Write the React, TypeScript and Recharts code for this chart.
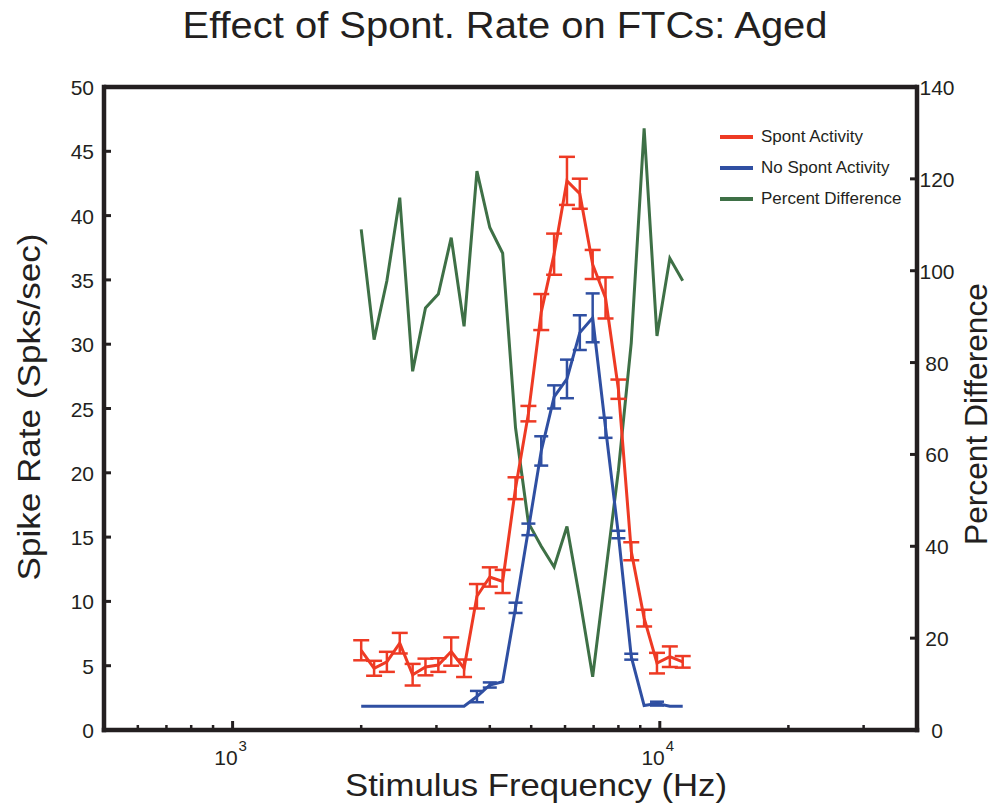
import {
  ComposedChart,
  Line,
  XAxis,
  YAxis,
  ErrorBar,
  ReferenceLine,
  Legend,
} from "recharts";

const RED = "#ee3a24";
const BLUE = "#2f4fa2";
const GREEN = "#3e7046";
const INK = "#231f20";
const FONT = "'Liberation Sans', Arial, Helvetica, sans-serif";

// stimulus frequencies, 1/10 octave steps (Hz)
const freqs = [
  2000, 2144, 2297, 2462, 2639, 2828, 3031, 3249, 3482, 3732, 4000, 4287, 4595,
  4925, 5278, 5657, 6063, 6498, 6964, 7464, 8000, 8574, 9190, 9849, 10556, 11314,
];

const spont = [
  6.2, 4.8, 5.3, 6.75, 4.3, 4.9, 5.05, 6.1, 4.8, 10.4, 11.9, 11.55, 18.8, 24.6,
  32.5, 37.0, 42.7, 41.7, 36.2, 33.6, 26.5, 13.9, 8.7, 5.2, 5.7, 5.3,
];
const spontErr = [
  0.78, 0.58, 0.78, 0.8, 0.84, 0.65, 0.53, 1.1, 0.68, 0.95, 0.75, 0.9, 0.85, 0.6,
  1.4, 1.6, 1.87, 1.17, 1.13, 1.6, 0.75, 0.7, 0.65, 0.8, 0.8, 0.45,
];

const noSpont = [
  1.85, 1.85, 1.85, 1.85, 1.85, 1.85, 1.85, 1.85, 1.85, 2.6, 3.5, 3.75, 9.5, 15.6,
  21.7, 25.9, 27.3, 30.9, 32.05, 23.5, 15.2, 5.7, 1.9, 2.05, 1.85, 1.85,
];
const noSpontErr = [
  0, 0, 0, 0, 0, 0, 0, 0, 0, 0.44, 0.2, 0, 0.4, 0.45, 1.14, 0.9, 1.5, 1.35, 1.9,
  0.78, 0.29, 0.23, 0, 0.15, 0, 0,
];

const pctDiff = [
  109.0, 85.0, 97.8, 115.9, 78.1, 91.9, 94.9, 107.2, 87.9, 121.7, 109.4, 103.8,
  65.8, 45.1, 40.0, 35.5, 44.3, 28.5, 11.6, 34.0, 56.5, 84.3, 131.0, 85.8, 102.7,
  97.8,
];

const xTicks = [
  600, 700, 800, 900, 1000, 2000, 3000, 4000, 5000, 6000, 7000, 8000, 9000, 10000,
  20000, 30000,
];
const xMajor: Record<number, string> = { 1000: "3", 10000: "4" };
const leftTicks = [0, 5, 10, 15, 20, 25, 30, 35, 40, 45, 50];
const rightTicks = [0, 20, 40, 60, 80, 100, 120, 140];

const rows = freqs.map((f, i) => ({
  freq: f,
  spont: spont[i],
  spontErr: spontErr[i],
  noSpont: noSpont[i],
  noSpontErr: noSpontErr[i],
  pctDiff: pctDiff[i],
}));

const legendItems = [
  { label: "Spont Activity", color: RED },
  { label: "No Spont Activity", color: BLUE },
  { label: "Percent Difference", color: GREEN },
];

const XTick = ({ x, y, payload }: any) => {
  const exp = xMajor[payload.value];
  if (!exp) {
    return <line x1={x} y1={y} x2={x} y2={y - 5} stroke={INK} strokeWidth={2.5} />;
  }
  return (
    <g>
      <line x1={x} y1={y} x2={x} y2={y - 9} stroke={INK} strokeWidth={3} />
      <text x={x - 2} y={y + 35} textAnchor="middle" fontFamily={FONT} fontSize={21} fill={INK}>
        10
        <tspan dx={1} dy={-14} fontSize={15}>
          {exp}
        </tspan>
      </text>
    </g>
  );
};

const LeftTick = ({ x, y, payload }: any) => (
  <g>
    <line x1={x} y1={y} x2={x + 7} y2={y} stroke={INK} strokeWidth={3} />
    <text x={x - 10} y={y + 8} textAnchor="end" fontFamily={FONT} fontSize={21} fill={INK}>
      {payload.value}
    </text>
  </g>
);

const RightTick = ({ x, y, payload }: any) => (
  <g>
    <line x1={x - 7} y1={y} x2={x} y2={y} stroke={INK} strokeWidth={3} />
    <text x={x + 20} y={y + 8} textAnchor="middle" fontFamily={FONT} fontSize={21} fill={INK}>
      {payload.value}
    </text>
  </g>
);

const renderLegend = () => (
  <div style={{ fontFamily: FONT, fontSize: 17, color: INK }}>
    {legendItems.map((it) => (
      <div key={it.label} style={{ display: "flex", alignItems: "center", height: 31 }}>
        <span
          style={{ display: "inline-block", width: 33, height: 4, background: it.color, marginRight: 8 }}
        />
        <span>{it.label}</span>
      </div>
    ))}
  </div>
);

export default function App() {
  return (
    <div style={{ position: "absolute", left: 0, top: 0 }}>
      <ComposedChart
        width={993}
        height={806}
        data={rows}
        margin={{ top: 87, right: 0, bottom: 0, left: 0 }}
      >
        <XAxis
          dataKey="freq"
          type="number"
          scale="log"
          domain={[500, 40000]}
          ticks={xTicks}
          interval={0}
          height={76}
          tickSize={0}
          tickMargin={0}
          tickLine={false}
          tick={<XTick />}
          axisLine={{ stroke: INK, strokeWidth: 4.5, strokeLinecap: "square" }}
          allowDataOverflow
        />
        <YAxis
          yAxisId="left"
          domain={[0, 50]}
          ticks={leftTicks}
          interval={0}
          width={104}
          tickSize={0}
          tickMargin={0}
          tickLine={false}
          tick={<LeftTick />}
          axisLine={{ stroke: INK, strokeWidth: 4.5, strokeLinecap: "square" }}
        />
        <YAxis
          yAxisId="right"
          orientation="right"
          domain={[0, 140]}
          ticks={rightTicks}
          interval={0}
          width={76}
          tickSize={0}
          tickMargin={0}
          tickLine={false}
          tick={<RightTick />}
          axisLine={{ stroke: INK, strokeWidth: 4.5, strokeLinecap: "square" }}
        />
        <ReferenceLine yAxisId="left" y={50} stroke={INK} strokeWidth={4.5} />
        <Line
          yAxisId="right"
          dataKey="pctDiff"
          stroke={GREEN}
          strokeWidth={3}
          dot={false}
          isAnimationActive={false}
        />
        <Line
          yAxisId="left"
          dataKey="noSpont"
          stroke={BLUE}
          strokeWidth={3}
          dot={false}
          isAnimationActive={false}
        >
          <ErrorBar dataKey="noSpontErr" direction="y" width={7} stroke={BLUE} strokeWidth={2.5} />
        </Line>
        <Line
          yAxisId="left"
          dataKey="spont"
          stroke={RED}
          strokeWidth={3}
          dot={false}
          isAnimationActive={false}
        >
          <ErrorBar dataKey="spontErr" direction="y" width={8} stroke={RED} strokeWidth={2.5} />
        </Line>
        <Legend
          layout="vertical"
          align="center"
          verticalAlign="middle"
          content={renderLegend}
          wrapperStyle={{ left: 720, top: 121, width: 200 }}
        />
        <text x={505} y={38} textAnchor="middle" fontFamily={FONT} fontSize={37} fill={INK} textLength={645} lengthAdjust="spacingAndGlyphs">
          Effect of Spont. Rate on FTCs: Aged
        </text>
        <text x={536} y={796} textAnchor="middle" fontFamily={FONT} fontSize={32} fill={INK} textLength={382} lengthAdjust="spacingAndGlyphs">
          Stimulus Frequency (Hz)
        </text>
        <text x={40} y={407} textAnchor="middle" fontFamily={FONT} fontSize={32} fill={INK} transform="rotate(-90, 40, 407)" textLength={347} lengthAdjust="spacingAndGlyphs">
          Spike Rate (Spks/sec)
        </text>
        <text x={987} y={414} textAnchor="middle" fontFamily={FONT} fontSize={31} fill={INK} transform="rotate(-90, 987, 414)" textLength={262} lengthAdjust="spacingAndGlyphs">
          Percent Difference
        </text>
      </ComposedChart>
    </div>
  );
}
